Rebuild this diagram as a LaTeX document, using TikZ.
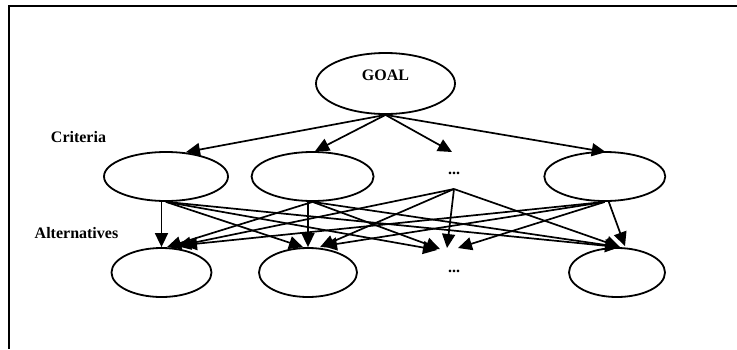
\documentclass[tikz,border=0pt]{standalone}
\usepackage{fontspec}
\setmainfont{Liberation Serif}
\usetikzlibrary{shapes.geometric,arrows.meta,calc}
\tikzset{
  ell/.style={ellipse, draw, line width=1.8pt, inner sep=0pt},
  lbl/.style={font=\bfseries\fontsize{16}{19}\selectfont, inner sep=0pt},
  arr/.style={line width=1.7pt, -{Triangle[length=14pt,width=13pt]}},
  frame/.style={line width=2pt}
}
\begin{document}
\begin{tikzpicture}[x=1pt,y=-1pt]
\useasboundingbox (0,0) rectangle (737,349);
\draw[frame] (737,6) -- (9,6) -- (9,349);

% goal
\node[ell, minimum width=139pt, minimum height=61pt,
      label={[lbl,yshift=8.5pt]center:GOAL}] (G) at (385.5,83.5) {};

% criteria
\node[lbl] (crit) at (78.5,137) {Criteria};
\node[ell, minimum width=124pt, minimum height=49pt] (C1) at (166,176.5) {};
\node[ell, minimum width=122pt, minimum height=49pt] (C2) at (312.6,176.5) {};
\node[lbl] (D1) at (454,173) {...};
\node[ell, minimum width=121pt, minimum height=49pt] (C4) at (604.8,176.5) {};

% alternatives
\node[lbl] (alt) at (76.5,233) {Alternatives};
\node[ell, minimum width=100pt, minimum height=49pt] (A1) at (161.5,272.5) {};
\node[ell, minimum width=98pt, minimum height=49pt] (A2) at (308,272.5) {};
\node[lbl] (D2) at (454,271) {...};
\node[ell, minimum width=96pt, minimum height=49pt] (A4) at (617,272.5) {};

\coordinate (d1s) at ($(D1)+(0,16)$);

% goal to criteria
\draw[arr] (G.south) -- ($(C1.north)+(20,1)$);
\draw[arr] (G.south) -- ($(C2.north)+(2.5,0)$);
\draw[arr] (G.south) -- ($(D1)+(-2,-21)$);
\draw[arr] (G.south) -- ($(C4.north)+(1,1)$);

% criteria to alternatives: C1
\draw[arr] (A1.north |- C1.south) -- (A1.north);
\draw[arr] (C1.south) -- ($(A2.north)+(-5,0)$);
\draw[arr] (C1.south) -- ($(D2)+(-17,-21)$);
\draw[arr] (C1.south) -- ($(A4.north)+(2,0)$);
% C2
\draw[arr] (C2.south) -- ($(A1.north)+(5.5,0)$);
\draw[arr] (A2.north |- C2.south) -- (A2.north);
\draw[arr] (C2.south) -- ($(D2)+(-14,-22)$);
\draw[arr] (C2.south) -- ($(A4.north)+(3,0)$);
% dots
\draw[arr] (d1s) -- ($(A1.north)+(15.5,-1)$);
\draw[arr] (d1s) -- ($(A2.north)+(12,0)$);
\draw[arr] (d1s) -- ($(D2)+(-7,-23)$);
\draw[arr] (d1s) -- ($(A4.north)+(3,0)$);
% C4
\draw[arr] (C4.south) -- ($(A1.north)+(21.5,-2)$);
\draw[arr] (C4.south) -- ($(A2.north)+(15,-1)$);
\draw[arr] (C4.south) -- ($(D2)+(4,-23)$);
\draw[arr] ($(C4.south)+(4,0)$) -- ($(A4.north)+(8,-1)$);
\end{tikzpicture}
\end{document}
